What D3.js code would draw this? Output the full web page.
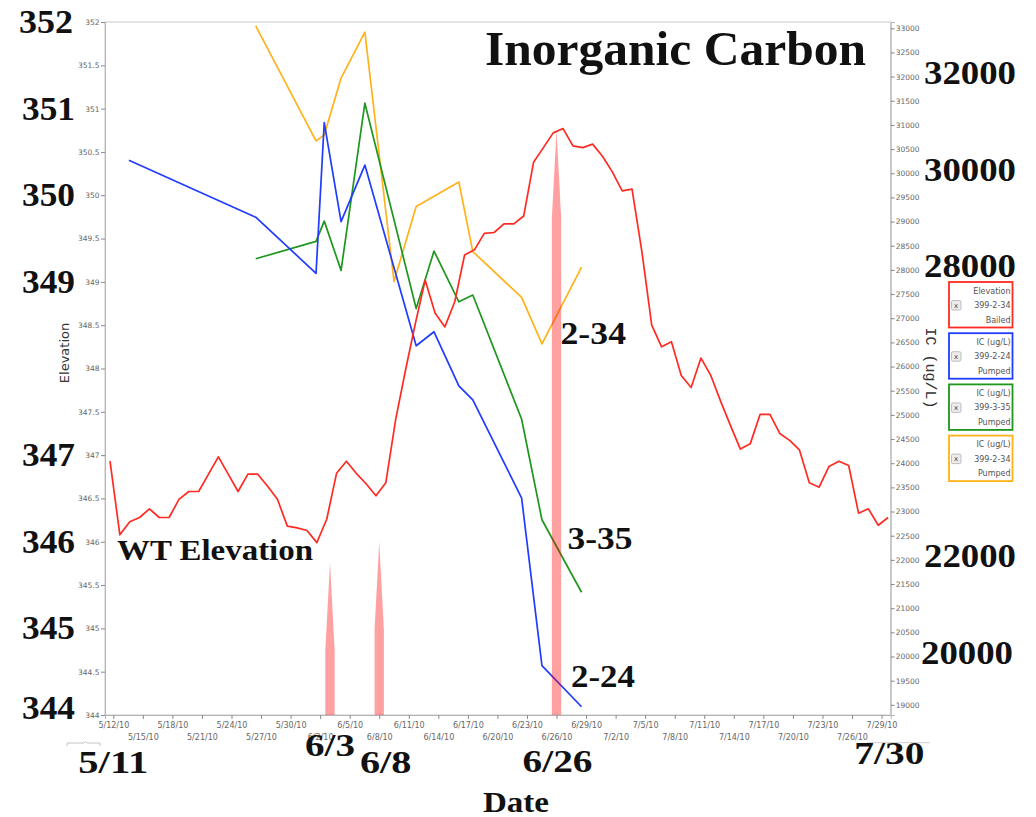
<!DOCTYPE html>
<html>
<head>
<meta charset="utf-8">
<script src="https://cdn.jsdelivr.net/npm/d3@7"></script>
<style>
  html, body { margin: 0; padding: 0; background: #fff; }
  svg { display: block; }
</style>
</head>
<body>
<svg id="chart" width="1036" height="817"></svg>
<script>
// Water-table elevation at well 399-2-34 (bailed), one reading per day starting 5/11/10
const elevStart = "2010-05-11T16:00";
const elevation = [
  346.93, 346.08, 346.23, 346.28, 346.38, 346.28, 346.28, 346.49, 346.58, 346.58,
  346.78, 346.98, 346.78, 346.58, 346.78, 346.78, 346.64, 346.49, 346.18, 346.16,
  346.13, 345.99, 346.26, 346.79, 346.93, 346.79, 346.67, 346.53, 346.68, 347.41,
  347.98, 348.52, 349.02, 348.64, 348.48, 348.77, 349.31, 349.37, 349.56, 349.57,
  349.67, 349.67, 349.76, 350.38, 350.55, 350.72, 350.77, 350.57, 350.55, 350.59,
  350.45, 350.27, 350.05, 350.07, 349.35, 348.50, 348.25, 348.31, 347.92, 347.78,
  348.12, 347.92, 347.62, 347.34, 347.07, 347.13, 347.47, 347.47, 347.25, 347.17,
  347.06, 346.68, 346.63, 346.87, 346.93, 346.88, 346.33, 346.38, 346.19, 346.28
];

// Inorganic carbon (ug/L), pumped samples
const dates224 = ["2010-05-13T14:00", "2010-05-26T11:00", "2010-06-01T14:00", "2010-06-02T10:00",
  "2010-06-04T03:00", "2010-06-06T13:00", "2010-06-11T18:00", "2010-06-13T13:30", "2010-06-16T02:00",
  "2010-06-17T12:00", "2010-06-22T11:00", "2010-06-24T12:30", "2010-06-28T13:00"];
const ic224 = [30270, 29090, 27930, 31050, 29000, 30170, 26430, 26720, 25600, 25310, 23280, 19810, 18960];

const dates335 = ["2010-05-26T11:00", "2010-06-01T14:00", "2010-06-02T10:00", "2010-06-04T03:00",
  "2010-06-06T13:00", "2010-06-11T18:00", "2010-06-13T13:30", "2010-06-16T02:00", "2010-06-17T12:00",
  "2010-06-22T11:00", "2010-06-24T12:30", "2010-06-28T13:00"];
const ic335 = [28230, 28590, 29010, 27990, 31450, 27200, 28390, 27340, 27480, 24910, 22830, 21330];

const dates234 = ["2010-05-26T11:00", "2010-06-01T14:00", "2010-06-02T10:00", "2010-06-04T03:00",
  "2010-06-06T13:00", "2010-06-09T12:00", "2010-06-11T18:00", "2010-06-16T02:00", "2010-06-17T12:00",
  "2010-06-22T11:00", "2010-06-24T12:30", "2010-06-28T13:00"];
const ic234 = [33050, 30670, 30790, 31970, 32920, 27760, 29310, 29820, 28380, 27430, 26470, 28060];

// Event markers (dates and peak heights on the elevation scale)
const eventDates = ["2010-06-03T00:00", "2010-06-08T00:00", "2010-06-26T00:00"];
const eventTops = [345.76, 346.0, 350.75];

// Axis tick values
const leftTicks = [344, 344.5, 345, 345.5, 346, 346.5, 347, 347.5, 348, 348.5, 349, 349.5, 350, 350.5, 351, 351.5, 352];
const rightTicks = [19000, 19500, 20000, 20500, 21000, 21500, 22000, 22500, 23000, 23500, 24000, 24500,
  25000, 25500, 26000, 26500, 27000, 27500, 28000, 28500, 29000, 29500, 30000, 30500, 31000, 31500,
  32000, 32500, 33000];

// Large call-out labels
const bigLeftLabels = [352, 351, 350, 349, 347, 346, 345, 344];
const bigRightLabels = [32000, 30000, 28000, 22000, 20000];

// Legend entries
const legendLines = [
  ["Elevation", "399-2-34", "Bailed"],
  ["IC (ug/L)", "399-2-24", "Pumped"],
  ["IC (ug/L)", "399-3-35", "Pumped"],
  ["IC (ug/L)", "399-2-34", "Pumped"]
];

const COL = { red: "#ff2b22", blue: "#1f3cff", green: "#1f961f", orange: "#ffb21a" };
const legendColors = [COL.red, COL.blue, COL.green, COL.orange];

const svg = d3.select("#chart");
const L = 105, R = 890.7, T = 22, B = 715;

const x = d3.scaleTime()
  .domain([new Date(2010, 4, 11, 3, 45), new Date(2010, 6, 29, 22, 20)])
  .range([L, R]);
const yL = d3.scaleLinear().domain([344, 352]).range([B, T]);
const yR = d3.scaleLinear().domain([18790, 33130]).range([B, T]);

const parse = s => new Date(s);

// plot frame
svg.append("rect").attr("x", L).attr("y", T).attr("width", R - L).attr("height", B - T)
  .attr("fill", "#fff").attr("stroke", "#c9c9c9").attr("stroke-width", 1);

// left axis
const gL = svg.append("g").attr("transform", `translate(${L},0)`)
  .call(d3.axisLeft(yL).tickValues(leftTicks).tickSize(4).tickPadding(1.5).tickFormat(d => String(d)));
// right axis
const gR = svg.append("g").attr("transform", `translate(${R},0)`)
  .call(d3.axisRight(yR).tickValues(rightTicks).tickSize(4).tickPadding(1).tickFormat(d => String(d)));
// bottom axis
const xTicks = d3.timeDay.range(new Date(2010, 4, 12), new Date(2010, 6, 30), 3);
const gB = svg.append("g").attr("transform", `translate(0,${B})`)
  .call(d3.axisBottom(x).tickValues(xTicks).tickSize(4).tickFormat(d3.timeFormat("%-m/%-d/%y")));
gB.selectAll(".tick text").attr("y", (d, i) => i % 2 ? 22 : 10).attr("dy", "0.35em");

[gL, gR, gB].forEach(g => {
  g.select(".domain").attr("stroke", "#b5b5b5");
  g.selectAll(".tick line").attr("stroke", "#8a8a8a");
  g.selectAll(".tick text").attr("fill", "#666").style("font-family", "DejaVu Sans, sans-serif")
    .style("font-size", "7.5px");
});
gB.selectAll(".tick text").style("font-size", "8px");

// data lines
const lineGen = d3.line().x(d => x(d[0])).y(d => d[1]);

const elevPts = elevation.map((v, i) => [d3.timeDay.offset(parse(elevStart), i), yL(v)]);
const series = [
  { dates: dates234, vals: ic234, color: COL.orange },
  { dates: dates335, vals: ic335, color: COL.green },
  { dates: dates224, vals: ic224, color: COL.blue }
];
const plot = svg.append("g");
series.forEach(s => {
  plot.append("path")
    .datum(s.dates.map((d, i) => [parse(d), yR(s.vals[i])]))
    .attr("d", lineGen).attr("fill", "none").attr("stroke", s.color)
    .attr("stroke-width", 1.7).attr("stroke-linejoin", "round");
});
plot.append("path").datum(elevPts).attr("d", lineGen).attr("fill", "none")
  .attr("stroke", COL.red).attr("stroke-width", 1.7).attr("stroke-linejoin", "round");

// event spikes (semi-transparent, drawn over the lines)
const dayW = x(new Date(2010, 5, 2)) - x(new Date(2010, 5, 1));
eventDates.forEach((d, i) => {
  const xc = x(parse(d));
  const w = dayW * 0.95;
  const x0 = xc - w / 2, x1 = xc + w / 2;
  const tip = yL(eventTops[i]);
  const ts = Math.min(B, tip + 88);
  plot.append("path")
    .attr("d", `M${x0},${B} L${x0},${ts} L${xc},${tip} L${x1},${ts} L${x1},${B} Z`)
    .attr("fill", "#ff0000").attr("fill-opacity", 0.37);
});

// axis titles
svg.append("text").attr("transform", "translate(69,353) rotate(-90)")
  .attr("text-anchor", "middle").attr("fill", "#333")
  .style("font-family", "DejaVu Sans, sans-serif").style("font-size", "13px").text("Elevation");
svg.append("text").attr("transform", "translate(926,368) rotate(90)")
  .attr("text-anchor", "middle").attr("fill", "#333")
  .style("font-family", "Liberation Mono, monospace").style("font-size", "15px").text("IC (ug/L)");

// legend
legendLines.forEach((lines, i) => {
  const y0 = 282 + i * 51.2;
  const g = svg.append("g");
  g.append("rect").attr("x", 949).attr("y", y0).attr("width", 63.5).attr("height", 45.5)
    .attr("fill", "#fff").attr("stroke", legendColors[i]).attr("stroke-width", 1.8);
  g.append("rect").attr("x", 951.5).attr("y", y0 + 18.5).attr("width", 9.5).attr("height", 9.5)
    .attr("rx", 1.5).attr("fill", "#ececec").attr("stroke", "#b0b0b0").attr("stroke-width", 0.8);
  g.append("text").attr("x", 956.2).attr("y", y0 + 23.3).attr("dy", "0.32em")
    .attr("text-anchor", "middle").attr("fill", "#444")
    .style("font-family", "DejaVu Sans, sans-serif").style("font-size", "7px").text("x");
  lines.forEach((t, k) => {
    g.append("text").attr("x", 1010.5).attr("y", y0 + 8.7 + k * 14.5).attr("dy", "0.35em")
      .attr("text-anchor", "end").attr("fill", "#555")
      .style("font-family", "DejaVu Sans, sans-serif").style("font-size", "8px").text(t);
  });
});

// slider remnants under the axis
svg.append("path").attr("d", "M67,746 L67,743 L84,743 L85.5,741.5 L87,743 L100,743 L100,746")
  .attr("fill", "none").attr("stroke", "#c4c4c4").attr("stroke-width", 1);
svg.append("path").attr("d", "M867,742.7 L930,742.7")
  .attr("fill", "none").attr("stroke", "#cfcfcf").attr("stroke-width", 1);

// large bold call-outs
function big(t, px, py, size, len, anchor) {
  svg.append("text").attr("x", px).attr("y", py).attr("text-anchor", anchor || "start")
    .attr("textLength", len).attr("lengthAdjust", "spacingAndGlyphs")
    .attr("fill", "#111").style("font-family", "Liberation Serif, serif")
    .style("font-weight", "bold").style("font-size", size + "px").text(t);
}
bigLeftLabels.forEach(v => {
  const base = Math.max(32, Math.min(719, yL(v) + 11));
  big(String(v), v === 352 ? 19 : 22, base, 33, v === 352 ? 54 : 53);
});
bigRightLabels.forEach(v => {
  big(String(v), v === 20000 ? 921 : 924, yR(v) + 7.5, 33, 92);
});

big("Inorganic Carbon", 485, 65, 48, 381);
big("WT Elevation", 117, 560, 30, 196);
big("2-34", 560.5, 343.5, 32, 65.5);
big("3-35", 567.5, 549.3, 32, 65);
big("2-24", 571, 686.7, 32, 64);

// date call-outs tied to the time scale
const dateCallouts = [
  ["5/11", "2010-05-12T00:00", 0, 772.7, 70],
  ["6/3", "2010-06-03T00:00", 0, 756, 50],
  ["6/8", "2010-06-08T00:00", 6.5, 773.3, 51.5],
  ["6/26", "2010-06-26T00:00", 1, 771.7, 70],
  ["7/30", "2010-07-30T00:00", -2, 764, 70]
];
dateCallouts.forEach(([t, d, dx, py, len]) => {
  big(t, x(parse(d)) + dx - len / 2, py, 31, len);
});
big("Date", 483, 811.5, 30, 66);
</script>
</body>
</html>
